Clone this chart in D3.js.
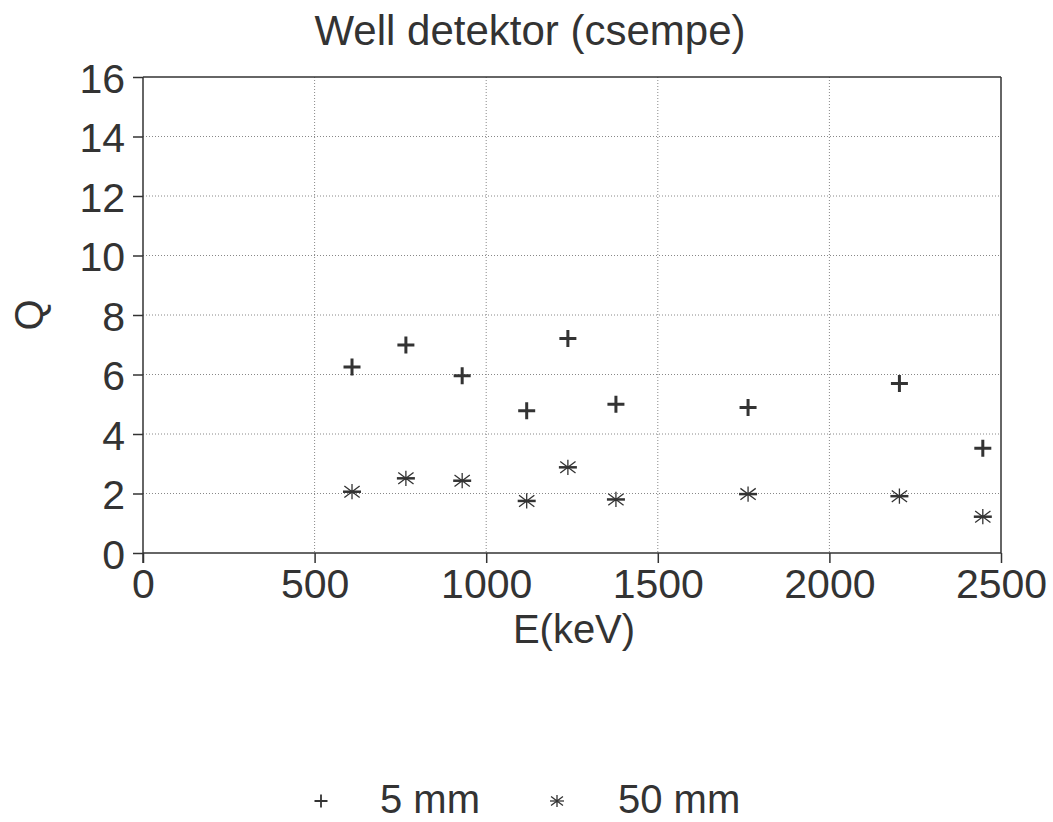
<!DOCTYPE html>
<html>
<head>
<meta charset="utf-8">
<script src="https://cdn.jsdelivr.net/npm/d3@7"></script>
<style>
  html, body { margin: 0; padding: 0; background: #fff; }
  svg { display: block; }
  text { font-family: "Liberation Sans", Arial, Helvetica, sans-serif; fill: #333; }
</style>
</head>
<body>
<svg id="chart" width="1053" height="822"></svg>
<script>
const title = "Well detektor (csempe)";
const xLabel = "E(keV)";
const yLabel = "Q";
const energies = [609, 766, 930, 1118, 1238, 1378, 1763, 2204, 2447];
const q5mm  = [6.25, 6.99, 5.96, 4.78, 7.21, 5.00, 4.89, 5.70, 3.52];
const q50mm = [2.06, 2.51, 2.43, 1.75, 2.88, 1.80, 1.98, 1.91, 1.22];
const seriesNames = ["5 mm", "50 mm"];
const xTicks = [0, 500, 1000, 1500, 2000, 2500];
const yTicks = [0, 2, 4, 6, 8, 10, 12, 14, 16];

(function() {
const svg = d3.select("#chart");
const ink = "#333";
const pL = 143, pR = 1001, pT = 77, pB = 553;

const x = d3.scaleLinear().domain([0, 2500]).range([pL, pR]);
const y = d3.scaleLinear().domain([0, 16]).range([pB, pT]);

// grid
const grid = svg.append("g");
grid.selectAll("line.h").data(yTicks.filter(t => t > 0 && t < 16)).join("line")
  .attr("class", "h")
  .attr("x1", pL).attr("x2", pR)
  .attr("y1", d => y(d)).attr("y2", d => y(d))
  .attr("stroke", "#888").attr("stroke-width", 1).attr("stroke-dasharray", "1,2");
grid.selectAll("line.v").data(xTicks.filter(t => t > 0 && t < 2500)).join("line")
  .attr("class", "v")
  .attr("y1", pT).attr("y2", pB)
  .attr("x1", d => x(d)).attr("x2", d => x(d))
  .attr("stroke", "#888").attr("stroke-width", 1).attr("stroke-dasharray", "1,2");

// frame top/right
svg.append("line").attr("x1", pL).attr("x2", pR).attr("y1", pT).attr("y2", pT)
  .attr("stroke", ink).attr("stroke-width", 1.5);
svg.append("line").attr("x1", pR).attr("x2", pR).attr("y1", pT).attr("y2", pB)
  .attr("stroke", ink).attr("stroke-width", 1.5);

// axes
const xAxis = d3.axisBottom(x).tickValues(xTicks).tickSize(10).tickPadding(8).tickFormat(d3.format("d"));
const gx = svg.append("g").attr("transform", `translate(0,${pB})`).call(xAxis);
gx.select(".domain").attr("stroke", ink).attr("stroke-width", 1.5).attr("d", `M${pL},0H${pR}`);
gx.selectAll(".tick line").attr("stroke", ink).attr("stroke-width", 1.5);
gx.selectAll(".tick text").attr("font-size", 41).attr("font-family", "Liberation Sans, Arial, sans-serif")
  .attr("fill", ink).attr("dy", null).attr("y", 45);

const yAxis = d3.axisLeft(y).tickValues(yTicks).tickSize(10).tickPadding(8).tickFormat(d3.format("d"));
const gy = svg.append("g").attr("transform", `translate(${pL},0)`).call(yAxis);
gy.select(".domain").attr("stroke", ink).attr("stroke-width", 1.5).attr("d", `M0,${pT}V${pB + 10}`);
gy.selectAll(".tick line").attr("stroke", ink).attr("stroke-width", 1.5);
gy.selectAll(".tick text").attr("font-size", 41).attr("font-family", "Liberation Sans, Arial, sans-serif")
  .attr("fill", ink).attr("dy", null).attr("y", 15).attr("x", -18);

// title & labels
svg.append("text").attr("x", 530).attr("y", 45).attr("text-anchor", "middle")
  .attr("font-size", 42).text(title);
svg.append("text").attr("x", (pL + pR) / 2 + 2).attr("y", 643).attr("text-anchor", "middle")
  .attr("font-size", 40).text(xLabel);
svg.append("text").attr("transform", `translate(43,${(pT + pB) / 2}) rotate(-90)`)
  .attr("text-anchor", "middle").attr("font-size", 40).text(yLabel);

// markers
function plusPath(s) { return `M${-s},0H${s}M0,${-s}V${s}`; }
function starParts(g, s, thick) {
  g.append("path").attr("d", `M${-s},0H${s}`).attr("stroke", ink).attr("stroke-width", thick);
  const d = s * 0.85;
  g.append("path").attr("d", `M0,${-s*0.85}V${s*0.85}M${-d},${-d*0.75}L${d},${d*0.75}M${-d},${d*0.75}L${d},${-d*0.75}`)
    .attr("stroke", ink).attr("stroke-width", 1.3);
}

const pts5 = energies.map((e, i) => ({ e, q: q5mm[i] }));
const pts50 = energies.map((e, i) => ({ e, q: q50mm[i] }));

svg.append("g").selectAll("path").data(pts5).join("path")
  .attr("transform", d => `translate(${x(d.e)},${y(d.q)})`)
  .attr("d", plusPath(8.5)).attr("stroke", ink).attr("stroke-width", 3).attr("fill", "none");

svg.append("g").selectAll("g").data(pts50).join("g")
  .attr("transform", d => `translate(${x(d.e)},${y(d.q)})`)
  .each(function() { starParts(d3.select(this), 9, 2.5); });

// legend
const lg = svg.append("g");
lg.append("path").attr("transform", "translate(321,801)").attr("d", plusPath(6.5))
  .attr("stroke", ink).attr("stroke-width", 1.8).attr("fill", "none");
lg.append("text").attr("x", 380).attr("y", 813).attr("font-size", 40).text(seriesNames[0]);
const sg = lg.append("g").attr("transform", "translate(557,801)");
starParts(sg, 7, 1.3);
lg.append("text").attr("x", 618).attr("y", 813).attr("font-size", 40).text(seriesNames[1]);
})();
</script>
</body>
</html>
